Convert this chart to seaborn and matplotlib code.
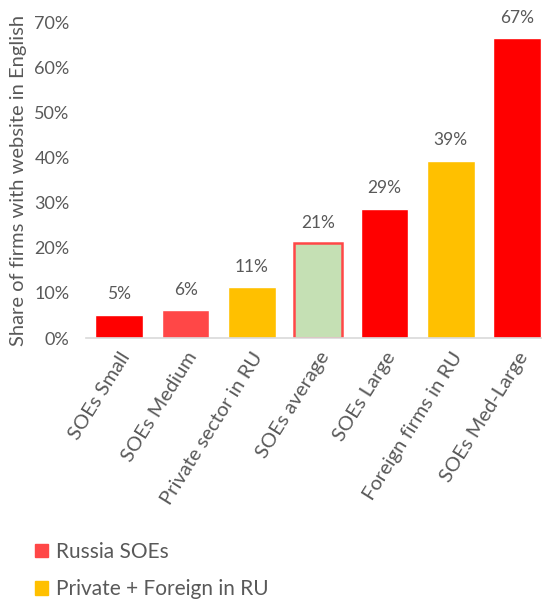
import matplotlib
matplotlib.use("Agg")
import matplotlib.pyplot as plt
import seaborn as sns
import pandas as pd
from matplotlib.patches import Patch
from matplotlib.ticker import PercentFormatter

# values
categories = ["SOEs Small", "SOEs Medium", "Private sector in RU", "SOEs average",
              "SOEs Large", "Foreign firms in RU", "SOEs Med-Large"]
shares = [0.052, 0.061, 0.112, 0.210, 0.286, 0.393, 0.665]
labels = ["5%", "6%", "11%", "21%", "29%", "39%", "67%"]
bar_colors = ["#FF0000", "#FF4747", "#FFC000", "#C5E0B4", "#FF0000", "#FFC000", "#FF0000"]

sns.set_theme(style="white")
plt.rcParams["font.family"] = ["Lato", "DejaVu Sans"]
grey = "#595959"

df = pd.DataFrame({"cat": categories, "share": shares})

fig = plt.figure(figsize=(5.42, 6.01), dpi=100)
ax = fig.add_axes([0.159, 0.4376, 0.856, 0.5254])

sns.barplot(data=df, x="cat", y="share", hue="cat", palette=bar_colors,
            legend=False, width=0.72, saturation=1, ax=ax)

# the average bar has a red outline
avg = ax.patches[categories.index("SOEs average")]
avg.set_edgecolor("#FF4747")
avg.set_linewidth(1.8)

for p, lab in zip(ax.patches, labels):
    ax.annotate(lab, (p.get_x() + p.get_width() / 2, p.get_height()),
                xytext=(0, 9), textcoords="offset points", ha="center", va="bottom",
                fontsize=12.5, color=grey)

ax.set_ylim(0, 0.70)
ax.set_xlim(-0.5, 6.5)
ax.yaxis.set_major_formatter(PercentFormatter(1.0, decimals=0))
ax.set_yticks([i / 10 for i in range(8)])
ax.tick_params(axis="y", labelsize=13, labelcolor=grey, pad=12, length=0)
ax.tick_params(axis="x", labelsize=14.5, labelcolor=grey, length=0, pad=8)
plt.setp(ax.get_xticklabels(), rotation=58, ha="right", rotation_mode="anchor")

ax.set_xlabel("")
ax.set_ylabel("Share of firms with website in English", fontsize=14.5, color=grey, labelpad=5)

for side in ["top", "right", "left"]:
    ax.spines[side].set_visible(False)
ax.spines["bottom"].set_color("#D9D9D9")
ax.spines["bottom"].set_linewidth(1.2)

handles = [Patch(color="#FF4747", label="Russia SOEs"),
           Patch(color="#FFC000", label="Private + Foreign in RU")]
leg = fig.legend(handles=handles, loc="upper left", bbox_to_anchor=(0.03, 0.13),
                 frameon=False, fontsize=15, handlelength=0.6, handleheight=0.6,
                 handletextpad=0.4, labelspacing=0.85, labelcolor=grey)

fig.savefig("out.png", dpi=100)
